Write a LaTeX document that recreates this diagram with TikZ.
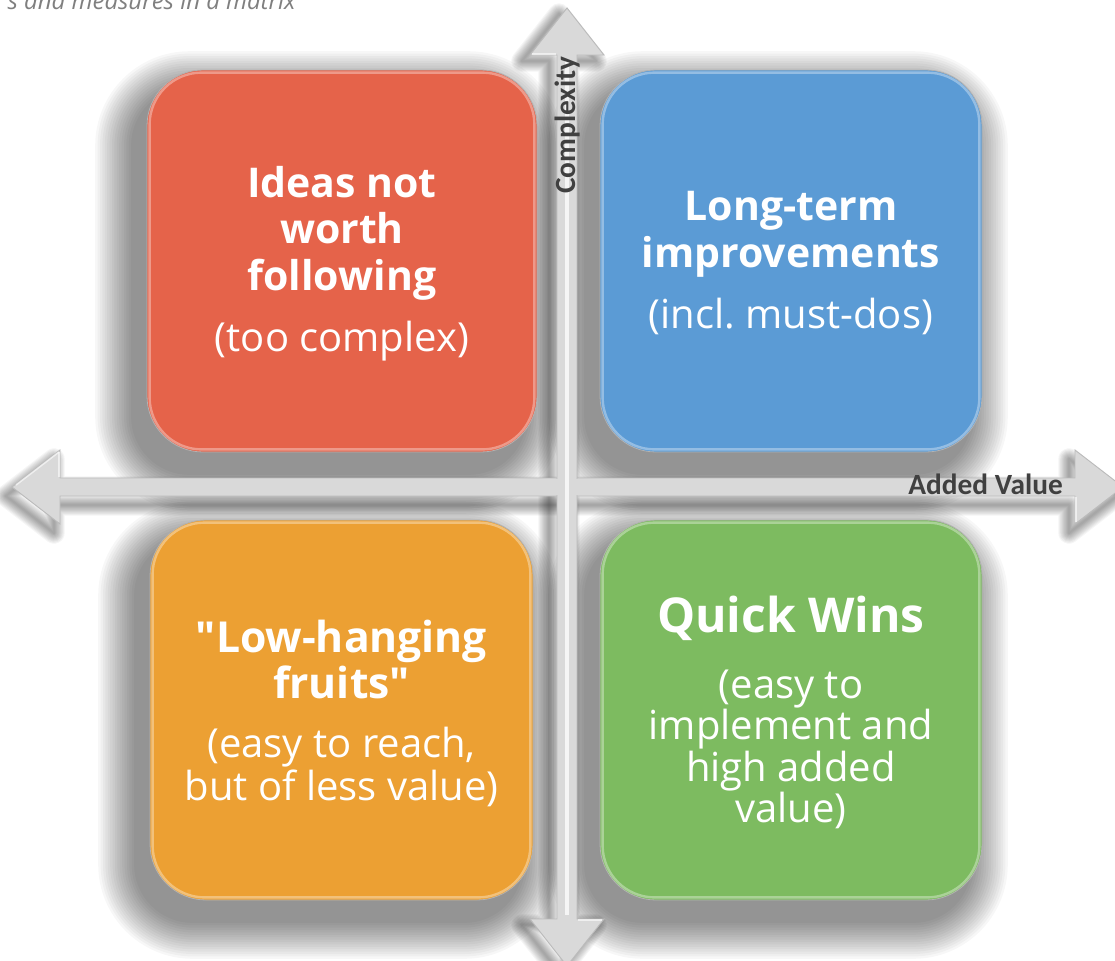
\documentclass[tikz,border=0pt]{standalone}
\usepackage{fontspec}
\setmainfont{Open Sans}[Ligatures=TeXOff]
\newfontfamily\axisfont{Carlito}
\definecolor{redq}{HTML}{E5634A}
\definecolor{blueq}{HTML}{5B9BD5}
\definecolor{orangeq}{HTML}{ECA033}
\definecolor{greenq}{HTML}{7DBB60}
\definecolor{axisgray}{HTML}{D9D9D9}
\definecolor{axisedge}{HTML}{BBBBBB}
\definecolor{labelgray}{HTML}{404040}
\definecolor{captiongray}{HTML}{7F7F7F}
\pgfdeclarelayer{shadowlayer}
\pgfsetlayers{shadowlayer,main}
\begin{document}
\frenchspacing
\begin{tikzpicture}[x=0.75pt,y=-0.75pt,
  quad/.style={rectangle, rounded corners=42pt, draw=black!30, line width=0.6pt, inner sep=0pt},
  rim/.style={draw=white, line width=1.8pt, opacity=0.35, rounded corners=39pt},
  axisarrow/.style={fill=axisgray, draw=axisedge, line width=0.7pt, line join=miter},
  softshade/.style={black, opacity=0.03},
  title/.style={anchor=base, text=white, font=\bfseries\fontsize{30.75}{34}\selectfont, inner sep=0pt},
  sub/.style={anchor=base, text=white, font=\fontsize{30}{33}\selectfont, inner sep=0pt},
  axislabel/.style={text=labelgray, font=\axisfont\bfseries\fontsize{22}{22}\selectfont, inner sep=0pt}
]
\path[use as bounding box] (0,0) rectangle (1115,961);
\clip (0,0) rectangle (1115,961);
\begin{pgfonlayer}{shadowlayer}
\fill[white] (0,0) rectangle (1115,961);
\end{pgfonlayer}

% caption (cut at top, as in the reference)
\node[anchor=base east, text=captiongray, font=\itshape\fontsize{18}{20}\selectfont, inner sep=0pt] (caption) at (296,9) {s and measures in a matrix};

% axis shadows
\begin{pgfonlayer}{shadowlayer}
\foreach \k in {1,...,10}{
  \pgfmathsetmacro\lw{1.6*\k}
  \draw[black, opacity=0.04, line width=\lw pt, line join=round, shift={(-6,9)}]
    (12,487) -- (60,450) -- (60,478) -- (1075,478) -- (1075,450) -- (1123,487)
    -- (1075,524) -- (1075,496) -- (60,496) -- (60,524) -- cycle;
  \draw[black, opacity=0.04, line width=\lw pt, line join=round, shift={(-8,6)}]
    (567,8) -- (604,55) -- (577,55) -- (577,919) -- (604,919) -- (567,966)
    -- (530,919) -- (557,919) -- (557,55) -- (530,55) -- cycle;
}
\end{pgfonlayer}

% axes
\path[axisarrow] (12,487) -- (60,450) -- (60,478) -- (1075,478) -- (1075,450) -- (1123,487)
   -- (1075,524) -- (1075,496) -- (60,496) -- (60,524) -- cycle;
\path[axisarrow] (567,8) -- (604,55) -- (577,55) -- (577,919) -- (604,919) -- (567,966)
   -- (530,919) -- (557,919) -- (557,55) -- (530,55) -- cycle;
\fill[axisgray] (61,479) rectangle (1074,495);
\fill[axisgray] (558,56) rectangle (576,918);
\draw[white, opacity=0.75, line width=3pt] (567,60) -- (567,915);
\draw[white, opacity=0.6, line width=1.2pt] (59,452) -- (59,477);
\draw[white, opacity=0.6, line width=1.2pt] (59,452) -- (16,485);
\draw[white, opacity=0.6, line width=1.2pt] (1076,497) -- (1076,522);
\draw[white, opacity=0.6, line width=1.2pt] (532,54) -- (556,54);
\draw[white, opacity=0.6, line width=1.2pt] (578,920) -- (602,920);

% quadrants
\node[quad, fill=redq, minimum width=292.5pt, minimum height=286.5pt] (red) at (342,261) {};
\node[quad, fill=blueq, minimum width=286.5pt, minimum height=286.5pt] (blue) at (791,261) {};
\node[quad, fill=orangeq, minimum width=287.25pt, minimum height=285pt] (orange) at (341.5,710) {};
\node[quad, fill=greenq, minimum width=286.5pt, minimum height=285pt] (green) at (791,710) {};
\foreach \b in {red,blue,orange,green}{
  \draw[rim] ([shift={(3,3)}]\b.north west) rectangle ([shift={(-3,-3)}]\b.south east);
}
\begin{pgfonlayer}{shadowlayer}
\foreach \b in {red,blue,orange,green}{
  \foreach \k in {1,...,16}{
    \pgfmathsetmacro\e{2.4*\k}
    \pgfmathsetmacro\rr{42+0.75*\e}
    \fill[softshade, rounded corners=\rr pt]
      ([shift={(-13-\e,20-\e)}]\b.north west) rectangle ([shift={(-13+\e,20+\e)}]\b.south east);
  }
}
\end{pgfonlayer}

% red text
\node[title] (r1) at (342,197) {Ideas not};
\node[title] (r2) at (342,243) {worth};
\node[title] (r3) at (342,290) {following};
\node[sub] (r4) at (342,351) {(too complex)};
% blue text
\node[title] (b1) at (791,220) {Long-term};
\node[title] (b2) at (791,267) {improvements};
\node[sub] (b3) at (791,328) {(incl. must-dos)};
% orange text
\node[title, font=\bfseries\fontsize{32}{34}\selectfont] (o1) at (341.5,652) {"Low-hanging};
\node[title, font=\bfseries\fontsize{32}{34}\selectfont] (o2) at (341.5,698) {fruits"};
\node[sub] (o3) at (341.5,757) {(easy to reach,};
\node[sub] (o4) at (341.5,800) {but of less value)};
% green text
\node[title, font=\bfseries\fontsize{36}{40}\selectfont] (g1) at (791,632) {Quick Wins};
\node[sub] (g2) at (791,698) {(easy to};
\node[sub] (g3) at (791,739) {implement and};
\node[sub] (g4) at (791,781) {high added};
\node[sub] (g5) at (791,822) {value)};

% axis labels
\node[axislabel, rotate=90] (ylab) at (568,125) {Complexity};
\node[axislabel, anchor=base east] (xlab) at (1063,494) {Added Value};
\end{tikzpicture}
\end{document}
